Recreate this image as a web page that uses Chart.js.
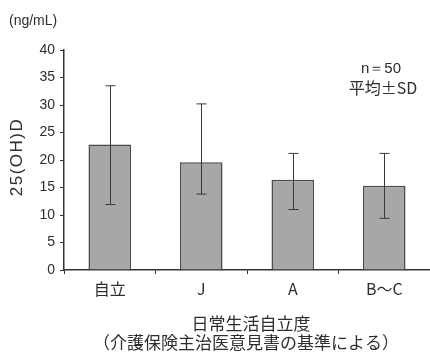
<!DOCTYPE html>
<html>
<head>
<meta charset="utf-8">
<script src="https://cdn.jsdelivr.net/npm/chart.js@4"></script>
<style>
  html, body { margin: 0; padding: 0; background: #fff; }
  #wrap { width: 430px; height: 353px; position: relative; }
</style>
</head>
<body>
<div id="wrap"><canvas id="chart"></canvas></div>
<script>
// data
const categories = ["自立", "J", "A", "B〜C"];
const means = [22.8, 19.6, 16.4, 15.3];
const errTop = [33.5, 30.2, 21.2, 21.2];
const errBottom = [11.9, 13.8, 11.0, 9.4];
const yTicks = [0, 5, 10, 15, 20, 25, 30, 35, 40];

const latin = "'Liberation Sans', Arial, sans-serif";
const jp = "'Noto Sans CJK JP', 'Liberation Sans', sans-serif";
const textColor = "#2e2e2e";

// error bars + the loose texts
const extras = {
  id: "extras",
  afterDatasetsDraw(chart) {
    const ctx = chart.ctx;
    const x = chart.scales.x, y = chart.scales.y;
    const area = chart.chartArea;
    ctx.save();
    ctx.strokeStyle = "#3a3a3a";
    ctx.lineWidth = 1;
    categories.forEach((c, i) => {
      const cx = Math.round(x.getPixelForValue(i)) + 0.5;
      const t = y.getPixelForValue(errTop[i]);
      const b = y.getPixelForValue(errBottom[i]);
      ctx.beginPath();
      ctx.moveTo(cx, t); ctx.lineTo(cx, b);
      ctx.moveTo(cx - 5, t); ctx.lineTo(cx + 5, t);
      ctx.moveTo(cx - 5, b); ctx.lineTo(cx + 5, b);
      ctx.stroke();
    });

    ctx.fillStyle = textColor;
    ctx.textBaseline = "middle";
    ctx.textAlign = "left";
    ctx.font = "14px " + latin;
    ctx.fillText("(ng/mL)", 9, 21);

    ctx.textAlign = "center";
    ctx.font = "15px " + latin;
    ctx.fillText("n＝50", 381, 69);
    ctx.font = "16px " + jp;
    ctx.fillText("平均±SD", 383, 88);

    // x title, two lines
    ctx.font = "17px " + jp;
    ctx.fillText("日常生活自立度", 251, 324);
    ctx.fillText("（介護保険主治医意見書の基準による）", 246, 343);

    // y title, rotated
    ctx.translate(17, (area.top + area.bottom) / 2 - 2);
    ctx.rotate(-Math.PI / 2);
    ctx.font = "17px " + latin;
    ctx.letterSpacing = "1.5px";
    ctx.fillText("25(OH)D", 1, 0);
    ctx.restore();
  }
};

new Chart(document.getElementById("chart"), {
  type: "bar",
  data: {
    labels: categories,
    datasets: [{
      data: means,
      backgroundColor: "#a7a7a7",
      borderColor: "#4a4a4a",
      borderWidth: 1.5,
      barPercentage: 0.465,
      categoryPercentage: 1
    }]
  },
  options: {
    responsive: true,
    maintainAspectRatio: false,
    animation: false,
    layout: { padding: { top: 50, right: -4, left: 0, bottom: 0 } },
    plugins: { legend: { display: false }, tooltip: { enabled: false } },
    scales: {
      x: {
        grid: { offset: true, drawOnChartArea: false, tickLength: 4, color: "#333" },
        border: { color: "#333", width: 1.5 },
        ticks: { color: textColor, font: { size: 16, family: jp }, padding: 5 },
        afterFit(scale) { scale.height = 83; }
      },
      y: {
        min: 0,
        max: 40,
        afterBuildTicks(scale) { scale.ticks = yTicks.map(v => ({ value: v })); },
        grid: { drawOnChartArea: false, tickLength: 4, color: "#333" },
        border: { color: "#333", width: 1.5 },
        ticks: { color: textColor, font: { size: 14, family: latin }, padding: 5 },
        afterFit(scale) { scale.width = 64; }
      }
    }
  },
  plugins: [extras]
});
</script>
</body>
</html>
